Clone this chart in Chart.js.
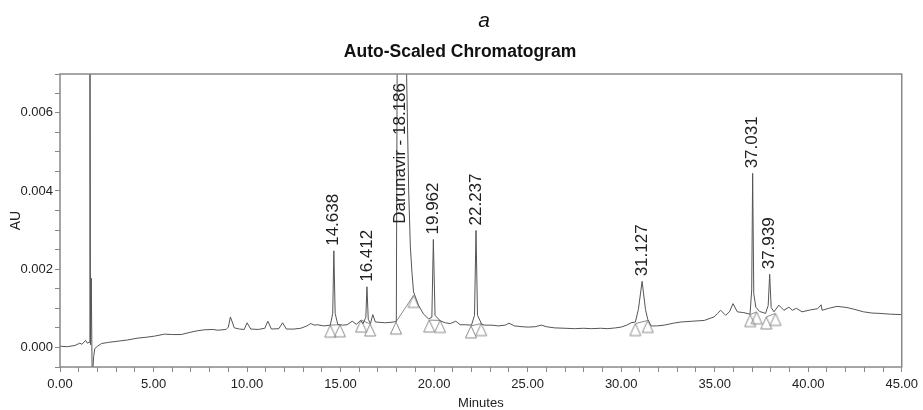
<!DOCTYPE html>
<html lang="en">
<head>
<meta charset="UTF-8">
<title>Auto-Scaled Chromatogram</title>
<script src="https://cdn.jsdelivr.net/npm/chart.js@4.4.0/dist/chart.umd.min.js"></script>
<style>
  body { margin: 0; background: #fff; }
  .wrap { position: relative; width: 923px; height: 410px; }
</style>
</head>
<body>
<div class="wrap"><canvas id="chromChart"></canvas></div>
<script>
// retention time (min) and absorbance (AU)
const times = [
  0.00, 0.40, 0.80, 1.06, 1.17, 1.37, 1.46, 1.56, 1.60, 1.63, 1.67, 1.72, 1.80, 1.86,
  2.00, 2.22, 2.60, 3.10, 3.60, 4.17, 4.60, 5.06, 5.59, 6.00, 6.48, 6.90, 7.28, 7.70,
  8.17, 8.43, 8.88, 9.00, 9.11, 9.32, 9.60, 9.85, 10.00, 10.20, 10.60, 10.95, 11.11,
  11.30, 11.70, 11.90, 12.10, 12.50, 12.87, 13.20, 13.40, 13.60, 13.77, 14.10, 14.45,
  14.58, 14.64, 14.71, 14.85, 15.10, 15.35, 15.62, 15.85, 16.06, 16.20, 16.35, 16.41,
  16.48, 16.60, 16.72, 16.86, 17.40, 17.84, 17.98, 18.03, 18.19, 18.50, 18.64, 18.73,
  18.82, 18.90, 19.17, 19.44, 19.70, 19.88, 19.96, 20.05, 20.33, 20.60, 20.86, 21.16,
  21.39, 21.70, 22.00, 22.16, 22.24, 22.32, 22.55, 22.72, 23.10, 23.43, 23.80, 24.00,
  24.30, 24.70, 25.03, 25.40, 25.74, 26.00, 26.45, 27.00, 27.51, 28.00, 28.40, 28.90,
  29.29, 29.70, 30.00, 30.30, 30.53, 30.76, 30.92, 31.12, 31.30, 31.42, 31.60, 31.90,
  32.30, 32.80, 33.19, 33.80, 34.44, 34.97, 35.15, 35.32, 35.59, 35.80, 35.98, 36.21,
  36.56, 36.89, 36.98, 37.03, 37.09, 37.20, 37.40, 37.72, 37.86, 37.94, 38.02, 38.17,
  38.43, 38.70, 38.97, 39.15, 39.37, 39.67, 40.12, 40.50, 40.69, 40.74, 41.10, 41.54,
  42.07, 42.50, 42.96, 43.40, 43.84, 44.40, 45.00
];
const absorbance = [
  0.00006, 0.00005, 0.00008, 0.00014, 0.00011, 0.00021, 0.00014, 0.00016, 0.0095, 0.0001, 0.0018, -0.0008, -0.0002, 0.0000,
  0.00006, 0.00013, 0.00016, 0.00019, 0.00022, 0.00027, 0.00029, 0.00032, 0.00037, 0.00036, 0.00036, 0.00041, 0.00045, 0.00048,
  0.00049, 0.00047, 0.00049, 0.00055, 0.00081, 0.00053, 0.00050, 0.00049, 0.00066, 0.00050, 0.00049, 0.00052, 0.00070,
  0.00050, 0.00051, 0.00066, 0.00050, 0.00050, 0.00052, 0.00058, 0.00064, 0.00060, 0.00061, 0.00058, 0.00060,
  0.00090, 0.00250, 0.00090, 0.00062, 0.00060, 0.00061, 0.00070, 0.00062, 0.00072, 0.00064, 0.00080, 0.00158,
  0.00075, 0.00064, 0.00087, 0.00068, 0.00066, 0.00068, 0.00070, 0.00800, 0.01100, 0.00780, 0.00405, 0.00260,
  0.00192, 0.00145, 0.00110, 0.00088, 0.00076, 0.00080, 0.00279, 0.00085, 0.00071, 0.00066, 0.00064, 0.00070,
  0.00061, 0.00061, 0.00060, 0.00085, 0.00302, 0.00085, 0.00062, 0.00060, 0.00060, 0.00058, 0.00060, 0.00065,
  0.00058, 0.00056, 0.00055, 0.00056, 0.00060, 0.00056, 0.00053, 0.00052, 0.00051, 0.00052, 0.00051, 0.00052,
  0.00051, 0.00053, 0.00055, 0.00060, 0.00066, 0.00068, 0.00100, 0.00172, 0.00100, 0.00075, 0.00058, 0.00058,
  0.00060, 0.00065, 0.00068, 0.00070, 0.00072, 0.00081, 0.00090, 0.00098, 0.00085, 0.00095, 0.00115, 0.00094,
  0.00092, 0.00088, 0.00150, 0.00448, 0.00140, 0.00106, 0.00095, 0.00090, 0.00110, 0.00190, 0.00105, 0.00094,
  0.00111, 0.00098, 0.00106, 0.00098, 0.00103, 0.00094, 0.00099, 0.00102, 0.00112, 0.00098, 0.00103, 0.00108,
  0.00105, 0.00100, 0.00094, 0.00091, 0.00090, 0.00088, 0.00087
];

// integration start / end markers (pairs)
const markerTimes  = [14.45, 14.96, 16.10, 16.58, 17.96, 18.90, 19.74, 20.32, 21.97, 22.52, 30.76, 31.42, 36.90, 37.24, 37.76, 38.25];
const markerValues = [0.00060, 0.00061, 0.00073, 0.00063, 0.00068, 0.00136, 0.00073, 0.00072, 0.00058, 0.00064, 0.00064, 0.00072, 0.00087, 0.00094, 0.00081, 0.00090];

// labelled peaks
const peakNames   = ['14.638', '16.412', 'Darunavir - 18.186', '19.962', '22.237', '31.127', '37.031', '37.939'];
const peakTimes   = [14.638, 16.412, 18.186, 19.962, 22.237, 31.127, 37.031, 37.939];
const peakHeights = [0.00250, 0.00158, 0.01100, 0.00279, 0.00302, 0.00172, 0.00448, 0.00190];

// labelled ticks; the unlabelled ones in between are minor ticks
const xTickLabels = [0, 5, 10, 15, 20, 25, 30, 35, 40, 45];
const yTickLabels = [0, 0.002, 0.004, 0.006];

const FONT = "'Liberation Sans', Arial, sans-serif";
const INK = '#222';
const AXIS = '#888';

const trace = times.map((t, i) => ({ x: t, y: absorbance[i] }));
const markers = markerTimes.map((t, i) => ({ x: t, y: markerValues[i] }));
const dropLines = [];
for (let i = 0; i < markerTimes.length; i += 2) {
  dropLines.push(markers[i], markers[i + 1], { x: markerTimes[i + 1] + 0.01, y: null });
}

// open triangle whose top vertex sits on the point
function triangleMark() {
  const c = document.createElement('canvas');
  c.width = 14; c.height = 28;
  const g = c.getContext('2d');
  g.strokeStyle = '#8c8c8c';
  g.lineWidth = 1;
  g.beginPath();
  g.moveTo(7, 14);
  g.lineTo(1.5, 26);
  g.lineTo(12.5, 26);
  g.closePath();
  g.stroke();
  return c;
}

const isYLabel = (v) => yTickLabels.some(t => Math.round(t * 10000) === Math.round(v * 10000));

const decorations = {
  id: 'decorations',
  afterDatasetsDraw(chart) {
    const { ctx, chartArea: a, scales: { x, y } } = chart;
    ctx.save();
    ctx.strokeStyle = AXIS;
    ctx.lineWidth = 1.5;
    ctx.strokeRect(a.left, a.top, a.right - a.left, a.bottom - a.top);

    ctx.font = '17px ' + FONT;
    ctx.fillStyle = INK;
    ctx.textAlign = 'left';
    ctx.textBaseline = 'middle';
    peakNames.forEach((name, i) => {
      const px = x.getPixelForValue(peakTimes[i]);
      let py = y.getPixelForValue(peakHeights[i]) - 5;
      const w = ctx.measureText(name).width;
      if (py - w < a.top + 9) py = a.top + 9 + w;
      ctx.save();
      ctx.translate(px, py);
      ctx.rotate(-Math.PI / 2);
      ctx.fillText(name, 0, 0);
      ctx.restore();
    });

    ctx.textAlign = 'center';
    ctx.fillStyle = '#111';
    ctx.font = 'italic 21px ' + FONT;
    ctx.fillText('a', 484, 21);
    ctx.font = 'bold 17.5px ' + FONT;
    ctx.fillText('Auto-Scaled Chromatogram', 460, 52);
    ctx.restore();
  }
};

new Chart(document.getElementById('chromChart'), {
  type: 'line',
  data: {
    datasets: [
      {
        data: trace,
        borderColor: '#555',
        borderWidth: 1,
        borderJoinStyle: 'round',
        pointRadius: 0,
        tension: 0
      },
      {
        data: dropLines,
        borderColor: '#8c8c8c',
        borderWidth: 1,
        pointRadius: 0,
        spanGaps: false
      },
      {
        data: markers,
        showLine: false,
        pointStyle: triangleMark(),
        pointRadius: 7
      }
    ]
  },
  options: {
    responsive: true,
    maintainAspectRatio: false,
    animation: false,
    events: [],
    layout: { padding: { left: 0, right: 18, top: 74, bottom: 0 } },
    plugins: {
      legend: { display: false },
      tooltip: { enabled: false }
    },
    scales: {
      x: {
        type: 'linear',
        min: 0,
        max: 45,
        bounds: 'data',
        afterFit: (s) => { s.height = 43; },
        grid: { drawOnChartArea: false, drawTicks: true, tickLength: 5, color: AXIS },
        border: { display: false },
        ticks: {
          stepSize: 1,
          autoSkip: false,
          maxRotation: 0,
          includeBounds: false,
          padding: 5,
          color: INK,
          font: { family: FONT, size: 13 },
          callback: (v) => xTickLabels.includes(Math.round(v * 100) / 100) ? v.toFixed(2) : ''
        },
        title: {
          display: true,
          text: 'Minutes',
          color: INK,
          padding: 0,
          font: { family: FONT, size: 13, lineHeight: 1 }
        }
      },
      y: {
        type: 'linear',
        min: -0.00047,
        max: 0.00702,
        bounds: 'data',
        afterFit: (s) => { s.width = 60; },
        grid: { drawOnChartArea: false, drawTicks: true, tickLength: 5, color: AXIS },
        border: { display: false },
        ticks: {
          stepSize: 0.0005,
          autoSkip: false,
          includeBounds: false,
          crossAlign: 'near',
          padding: 2,
          color: INK,
          font: { family: FONT, size: 13 },
          callback: (v) => isYLabel(v) ? Number(v).toFixed(3) : ''
        },
        title: {
          display: true,
          text: 'AU',
          color: INK,
          padding: 9,
          font: { family: FONT, size: 14, lineHeight: 1 }
        }
      }
    }
  },
  plugins: [decorations]
});
</script>
</body>
</html>
